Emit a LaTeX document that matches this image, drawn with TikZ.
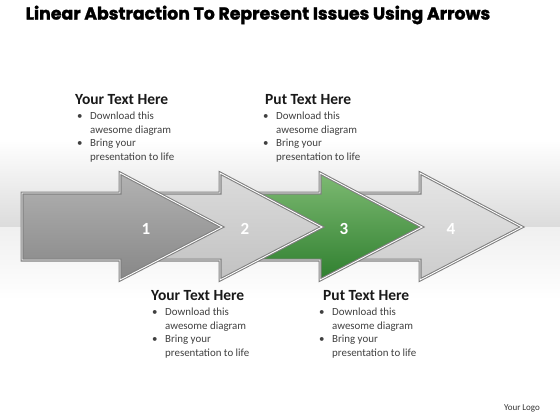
\documentclass[tikz,border=0pt]{standalone}
\usepackage{fontspec}
\setmainfont{Carlito}
\newfontfamily\titlefont[BoldFeatures={FakeBold=1.6}]{Poppins}
\usetikzlibrary{positioning}

\definecolor{txtgray}{HTML}{404040}
\definecolor{greenlight}{HTML}{7DBA72}
\definecolor{greendark}{HTML}{2F7F2F}

\tikzset{
  arrowbase/.style={draw=black!50, line width=3pt, line join=miter,
    postaction={draw=white, line width=0.9pt}},
  arrowdark/.style={arrowbase, top color=black!30, bottom color=black!47},
  arrowmid/.style={arrowbase, top color=black!14, bottom color=black!24},
  arrowgreen/.style={arrowbase, top color=greenlight, bottom color=greendark},
  arrowlight/.style={arrowbase, top color=black!10, bottom color=black!20},
  numlabel/.style={text=white, font=\fontsize{17}{17}\selectfont\bfseries},
  heading/.style={inner sep=0pt, anchor=west, text=black!90,
    font=\fontsize{15.5}{16}\selectfont\bfseries},
  bullets/.style={inner sep=0pt, text=txtgray,
    font=\fontsize{10.9}{13.4}\selectfont},
}

\newcommand{\bulletbody}{%
\begin{tabular}{@{}p{13pt}@{}l@{}}
\textbullet & Download this\\
 & awesome diagram\\
\textbullet & Bring your\\
 & presentation to life
\end{tabular}}

\begin{document}
\begin{tikzpicture}[x=1pt, y=-1pt]
    \useasboundingbox (0,0) rectangle (560,420);
    % Background
    \fill[white] (0,0) rectangle (560,420);
    \fill[top color=white, bottom color=black!14] (0,140) rectangle (560,227);
    \fill[top color=black!6, bottom color=white] (0,227) rectangle (560,300);

    % Title
    \node[font=\titlefont\fontsize{17.3}{19}\selectfont\bfseries] (title) at (258,15)
        {Linear Abstraction To Represent Issues Using Arrows};

    % Arrows (back to front)
    \foreach \x/\l/\sty in {420/350/arrowlight, 320/250/arrowgreen, 220/150/arrowmid, 120/22/arrowdark}
        \path[\sty] (\l,193) -- (\x,193) -- (\x,173) -- ({\x+102},227)
            -- (\x,280) -- (\x,260) -- (\l,260) -- cycle;

    % Numbers
    \node[numlabel] (n1) at (146,229) {1};
    \node[numlabel] (n2) at (245,229) {2};
    \node[numlabel] (n3) at (344,229) {3};
    \node[numlabel] (n4) at (451,229) {4};

    % Text blocks
    \node[heading] (h1) at (75,100) {Your Text Here};
    \node[bullets, below right=5pt and 2pt of h1.south west] (b1) {\bulletbody};
    \node[heading] (h2) at (265,100) {Put Text Here};
    \node[bullets, below right=5pt and -2pt of h2.south west] (b2) {\bulletbody};
    \node[heading] (h3) at (151,296) {Your Text Here};
    \node[bullets, below right=5pt and 1pt of h3.south west] (b3) {\bulletbody};
    \node[heading] (h4) at (323,296) {Put Text Here};
    \node[bullets, below right=5pt and -4pt of h4.south west] (b4) {\bulletbody};

    % Logo
    \node[text=black!80, font=\fontsize{9}{10}\selectfont] (logo) at (522,408) {Your Logo};
\end{tikzpicture}
\end{document}
